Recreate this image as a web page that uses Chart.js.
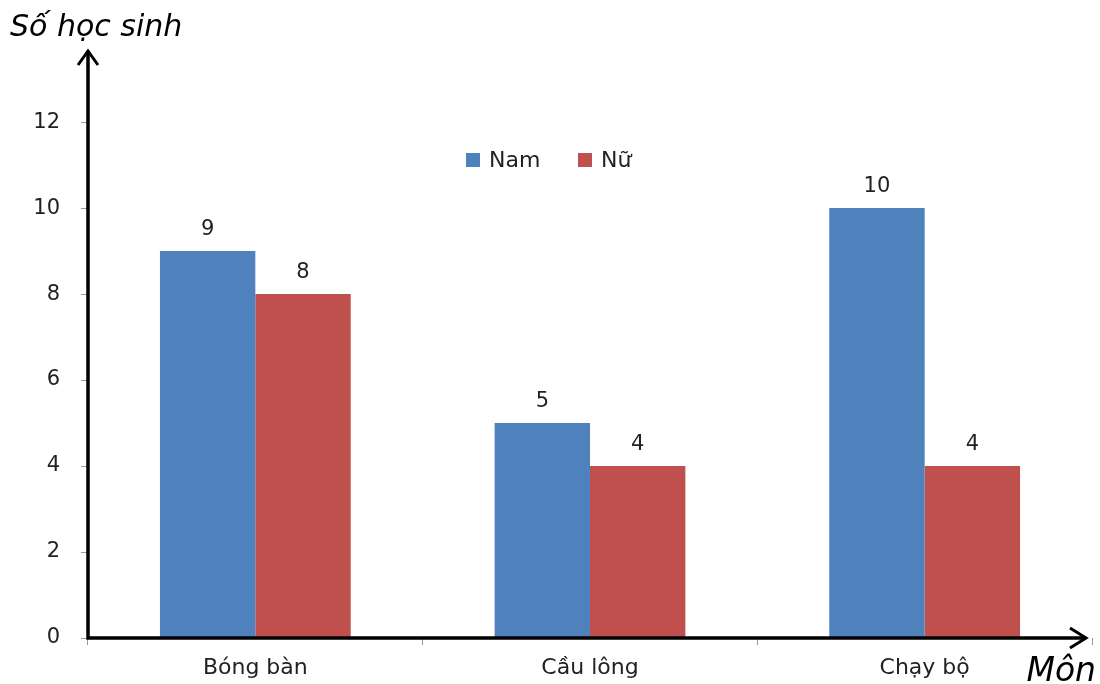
<!DOCTYPE html>
<html>
<head>
<meta charset="utf-8">
<script src="https://cdn.jsdelivr.net/npm/chart.js@4.4.1/dist/chart.umd.min.js"></script>
<style>
  body { margin: 0; background: #fff; }
  #wrap { width: 1100px; height: 684px; }
</style>
</head>
<body>
<div id="wrap"><canvas id="sportChart" width="1100" height="684"></canvas></div>
<script>
// Number of students per sport
const sports = ['Bóng bàn', 'Cầu lông', 'Chạy bộ'];
const boys = [9, 5, 10];
const girls = [8, 4, 4];
const seriesNames = ['Nam', 'Nữ'];

const FONT = "'DejaVu Sans', 'Open Sans', sans-serif";

// Axis lines with arrow heads, axis titles, legend and value labels
const decorations = {
  id: 'decorations',
  afterDatasetsDraw(chart) {
    const ctx = chart.ctx;
    const x = chart.scales.x, y = chart.scales.y;
    const x0 = x.left, y0 = y.getPixelForValue(0);
    const yTop = y.top + 2, xEnd = x.right - 6;

    ctx.save();
    ctx.strokeStyle = '#000';
    ctx.lineWidth = 3.5;
    ctx.lineCap = 'butt';
    ctx.beginPath();
    ctx.moveTo(x0, y0 + 1.5);
    ctx.lineTo(x0, yTop);
    ctx.moveTo(x0 - 1.5, y0);
    ctx.lineTo(xEnd, y0);
    ctx.stroke();

    ctx.lineWidth = 3;
    ctx.lineJoin = 'miter';
    ctx.beginPath();
    ctx.moveTo(x0 - 10, yTop + 14);
    ctx.lineTo(x0, yTop);
    ctx.lineTo(x0 + 10, yTop + 14);
    ctx.moveTo(xEnd - 16, y0 - 10);
    ctx.lineTo(xEnd, y0);
    ctx.lineTo(xEnd - 16, y0 + 10);
    ctx.stroke();

    // axis titles
    ctx.fillStyle = '#000';
    ctx.textBaseline = 'alphabetic';
    ctx.textAlign = 'left';
    ctx.font = 'oblique 30px ' + FONT;
    ctx.fillText('Số học sinh', 10, 36);
    ctx.textAlign = 'right';
    ctx.font = 'oblique 33px ' + FONT;
    ctx.fillText('Môn', 1096, 681);

    // value labels above bars
    ctx.font = '21px ' + FONT;
    ctx.fillStyle = '#222';
    ctx.textAlign = 'center';
    chart.data.datasets.forEach((ds, i) => {
      chart.getDatasetMeta(i).data.forEach((bar, j) => {
        ctx.fillText(String(ds.data[j]), bar.x, bar.y - 16);
      });
    });

    // legend
    ctx.font = '22px ' + FONT;
    ctx.textAlign = 'left';
    ctx.textBaseline = 'middle';
    const legendX = [466, 578];
    chart.data.datasets.forEach((ds, i) => {
      ctx.fillStyle = ds.backgroundColor;
      ctx.fillRect(legendX[i], 153, 14, 14);
      ctx.fillStyle = '#222';
      ctx.fillText(ds.label, legendX[i] + 23, 161);
    });
    ctx.restore();
  }
};

new Chart(document.getElementById('sportChart'), {
  type: 'bar',
  data: {
    labels: sports,
    datasets: [
      { label: seriesNames[0], data: boys, backgroundColor: '#4F81BD' },
      { label: seriesNames[1], data: girls, backgroundColor: '#C0504D' }
    ]
  },
  options: {
    responsive: false,
    animation: false,
    layout: { padding: { top: 49, right: 8, left: 0, bottom: 0 } },
    datasets: { bar: { categoryPercentage: 0.57, barPercentage: 1.0 } },
    plugins: {
      legend: { display: false },
      tooltip: { enabled: false }
    },
    scales: {
      x: {
        border: { display: false },
        grid: { drawOnChartArea: false, drawTicks: true, tickLength: 7, color: '#9a9a9a' },
        ticks: { color: '#222', font: { family: FONT, size: 22 }, padding: 10 },
        afterFit(scale) { scale.height = 46; }
      },
      y: {
        min: 0,
        max: 13.7,
        border: { display: false },
        grid: { drawOnChartArea: false, drawTicks: true, tickLength: 7, color: '#9a9a9a' },
        ticks: { stepSize: 2, color: '#222', font: { family: FONT, size: 21 }, padding: 21 },
        afterBuildTicks(scale) { scale.ticks = scale.ticks.filter(t => t.value <= 12); },
        afterFit(scale) { scale.width = 88; }
      }
    }
  },
  plugins: [decorations]
});
</script>
</body>
</html>
